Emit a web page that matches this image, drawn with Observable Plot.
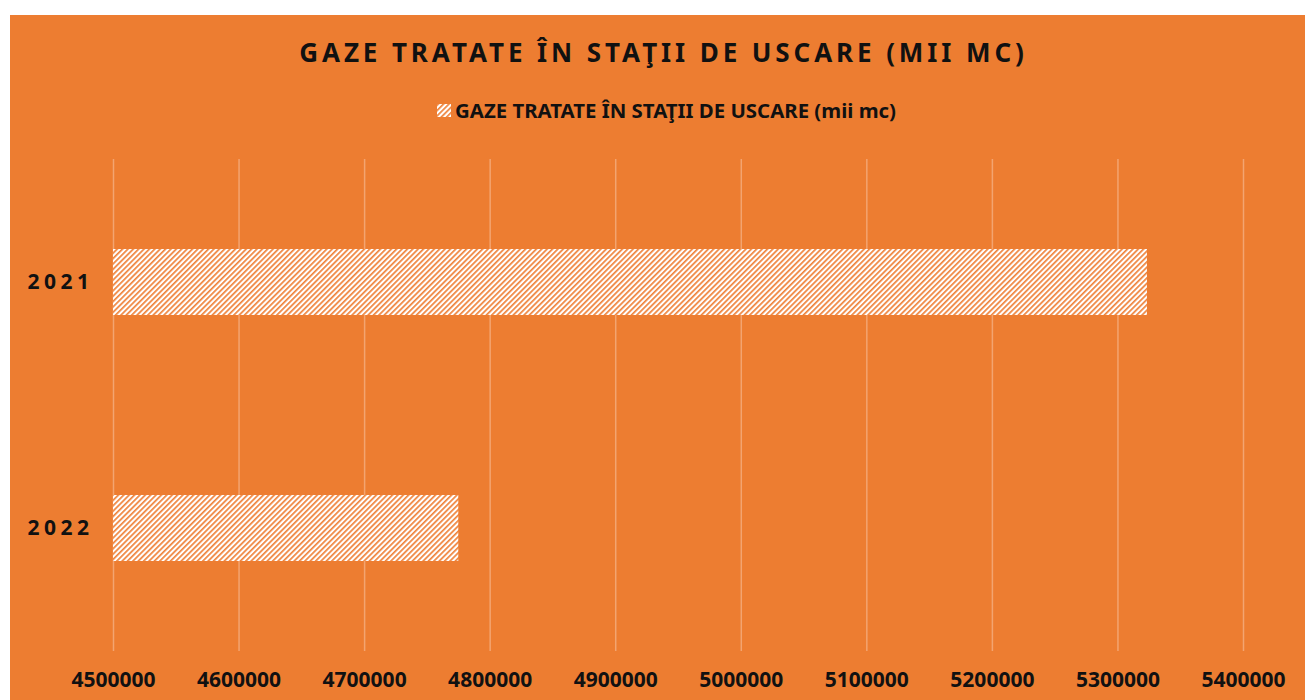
<!DOCTYPE html>
<html>
<head>
<meta charset="utf-8">
<script src="https://cdn.jsdelivr.net/npm/d3@7"></script>
<script src="https://cdn.jsdelivr.net/npm/@observablehq/plot@0.6"></script>
<style>
  html, body { margin: 0; padding: 0; background: #ffffff; width: 1305px; height: 700px; overflow: hidden; }
  #frame { position: absolute; left: 10px; top: 15px; width: 1295px; height: 685px; background: #ED7D31; font-family: "Noto Sans", sans-serif; color: #111; }
  #title { position: absolute; left: 0; width: 1295px; top: 18px; text-align: center; font-size: 26px; font-weight: 700; letter-spacing: 3.9px; line-height: 38px; padding-left: 12px; box-sizing: border-box; }
  #legend { position: absolute; left: 0; width: 1295px; top: 82px; display: flex; justify-content: center; align-items: center; font-size: 20.4px; font-weight: 700; line-height: 26px; padding-left: 18px; box-sizing: border-box; }
  #legend svg { margin-right: 4px; }
  #chart { position: absolute; left: 0; top: 125px; }
  #chart g[aria-label="y-axis tick label"] text { letter-spacing: 4.5px; }
</style>
</head>
<body>
<div id="frame">
  <div id="title">GAZE TRATATE ÎN STAŢII DE USCARE (MII MC)</div>
  <div id="legend"><svg width="14" height="13"><defs><pattern id="hatchL" patternUnits="userSpaceOnUse" width="3.8" height="3.8" patternTransform="rotate(45)"><rect width="3.8" height="3.8" fill="#fff"/><rect width="1.7" height="3.8" fill="#EF843D"/></pattern></defs><rect width="14" height="13" fill="url(#hatchL)"/></svg><span>GAZE TRATATE ÎN STAŢII DE USCARE (mii mc)</span></div>
  <div id="chart"></div>
</div>
<script>
const years = ["2021", "2022"];
const values = [5323500, 4775000];
const xTicks = [4500000, 4600000, 4700000, 4800000, 4900000, 5000000, 5100000, 5200000, 5300000, 5400000];
const seriesName = "GAZE TRATATE ÎN STAŢII DE USCARE (mii mc)";

const data = years.map((y, i) => ({year: y, value: values[i]}));

const chart = Plot.plot({
  width: 1295,
  height: 560,
  marginLeft: 103,
  marginRight: 62,
  marginTop: 19,
  marginBottom: 49,
  style: {background: "transparent", fontFamily: "Noto Sans, sans-serif", fontSize: "21px", fontWeight: "700", color: "#111", overflow: "visible"},
  x: {domain: [4500000, 5400000], type: "linear"},
  y: {domain: years, paddingInner: 0.73, paddingOuter: 0.365},
  marks: [
    Plot.gridX(xTicks, {stroke: "#F3A470", strokeOpacity: 1, strokeWidth: 1.5}),
    Plot.barX(data, {x1: 4500000, x2: "value", y: "year", fill: "url(#hatch)"}),
    Plot.axisX(xTicks, {tickSize: 0, tickPadding: 21, tickFormat: d => String(d), label: null, fill: "#111"}),
    Plot.axisY({tickSize: 0, tickPadding: 20, label: null, fill: "#111"})
  ]
});

const svgSel = d3.select(chart);
const defs = svgSel.insert("defs", ":first-child");
const pat = defs.append("pattern")
  .attr("id", "hatch")
  .attr("patternUnits", "userSpaceOnUse")
  .attr("width", 3.8).attr("height", 3.8)
  .attr("patternTransform", "rotate(45)");
pat.append("rect").attr("width", 3.8).attr("height", 3.8).attr("fill", "#ffffff");
pat.append("rect").attr("width", 1.7).attr("height", 3.8).attr("fill", "#EF843D");

document.getElementById("chart").appendChild(chart);
</script>
</body>
</html>
